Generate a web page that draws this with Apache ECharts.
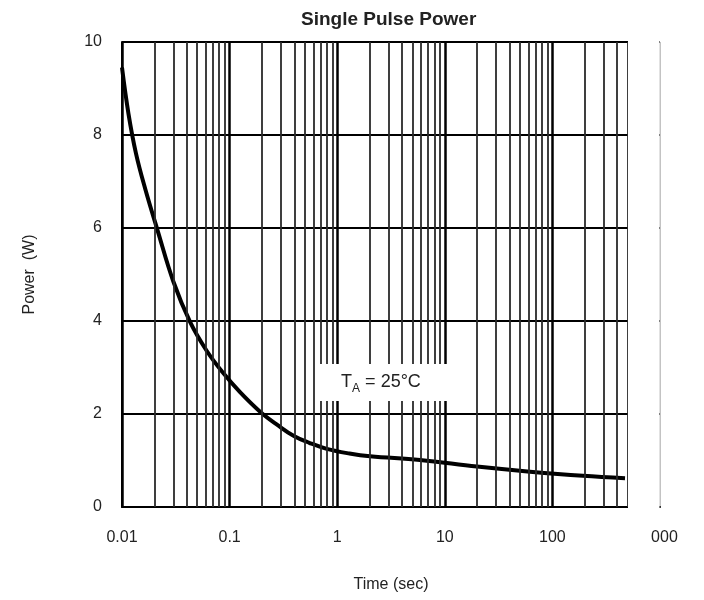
<!DOCTYPE html>
<html>
<head>
<meta charset="utf-8">
<script src="https://cdn.jsdelivr.net/npm/echarts@6/dist/echarts.min.js"></script>
<style>html,body{margin:0;padding:0;background:#fff}#chart{width:704px;height:600px}</style>
</head>
<body>
<div id="chart"></div>
<script>
// Data
const timeSec  = [0.01, 0.0115, 0.0135, 0.0164, 0.0214, 0.030, 0.0429, 0.0612, 0.0873, 0.125, 0.192, 0.28, 0.40, 0.55, 0.80, 1.3, 2.02, 5.88, 19.9, 61.9, 192, 473];
const powerW   = [9.45, 8.45, 7.6, 6.85, 5.95, 4.85, 3.98, 3.36, 2.88, 2.47, 2.05, 1.76, 1.52, 1.38, 1.25, 1.15, 1.09, 1.01, 0.87, 0.76, 0.67, 0.62];
const decades  = [0.01, 0.1, 1, 10, 100];
const minorMultipliers = [2, 3, 4, 5, 6, 7, 8, 9];
const annotation = { t: 2.78, p: 2.68 };

const minorLines = [];
decades.forEach(d => minorMultipliers.forEach(m => minorLines.push(+(d * m).toPrecision(6))));

const font = 'Liberation Sans, Arial, Helvetica, sans-serif';
const chart = echarts.init(document.getElementById('chart'));
chart.setOption({
  animation: false,
  backgroundColor: '#fff',
  title: {
    text: 'Single Pulse Power',
    left: 296, top: 5,
    textStyle: { fontFamily: font, fontSize: 19, fontWeight: 'bold', color: '#222' }
  },
  grid: { left: 122, right: 44, top: 42, bottom: 93, show: true, borderColor: '#888', borderWidth: 1 },
  xAxis: {
    type: 'log', logBase: 10, min: 0.01, max: 1000,
    name: 'Time (sec)', nameLocation: 'middle', nameGap: 70,
    nameTextStyle: { fontFamily: font, fontSize: 16, color: '#222' },
    axisLine: { show: true, onZero: false, lineStyle: { color: '#000', width: 2 } },
    axisTick: { show: false },
    axisLabel: { margin: 23, fontFamily: font, fontSize: 16, color: '#222',
      formatter: v => String(+Number(v).toPrecision(6)) },
    splitLine: { show: true, showMaxLine: false, lineStyle: { color: '#000', width: 2.5 } },
    minorTick: { show: false }, minorSplitLine: { show: false }
  },
  yAxis: {
    type: 'value', min: 0, max: 10, interval: 2,
    name: 'Power  (W)', nameLocation: 'middle', nameGap: 84,
    nameTextStyle: { fontFamily: font, fontSize: 16, color: '#222' },
    axisLine: { show: true, lineStyle: { color: '#000', width: 2 } },
    axisTick: { show: false },
    axisLabel: { margin: 20, fontFamily: font, fontSize: 16, color: '#222' },
    splitLine: { show: true, lineStyle: { color: '#000', width: 2 } }
  },
  series: [
    {
      type: 'line', z: 1, data: [], silent: true,
      markLine: {
        silent: true, symbol: ['none', 'none'], label: { show: false },
        lineStyle: { color: '#2a2a2a', width: 1.8, type: 'solid' },
        emphasis: { disabled: true },
        data: minorLines.map(v => ({ xAxis: v }))
      }
    },
    {
      type: 'line', z: 3, smooth: 0.4, symbol: 'none',
      lineStyle: { color: '#000', width: 4 },
      data: timeSec.map((t, i) => [t, powerW[i]])
    },
    {
      type: 'line', z: 5, data: [], silent: true,
      markPoint: {
        silent: true, symbol: 'rect', symbolSize: [134, 37],
        itemStyle: { color: '#fff' },
        label: {
          show: true, position: 'inside', offset: [-4, 0],
          formatter: '{t|T}{s|A}{t| = 25°C}',
          rich: {
            t: { fontFamily: font, fontSize: 18, color: '#222' },
            s: { fontFamily: font, fontSize: 12, color: '#222', padding: [13, 0, 0, 0] }
          }
        },
        data: [{ coord: [annotation.t, annotation.p] }]
      }
    }
  ],
  graphic: [
    { type: 'rect', z: 100, shape: { x: 628, y: 34, width: 31.5, height: 480 }, style: { fill: '#fff' } },
    { type: 'rect', z: 100, shape: { x: 628, y: 514, width: 23, height: 40 }, style: { fill: '#fff' } }
  ]
});
</script>
</body>
</html>
